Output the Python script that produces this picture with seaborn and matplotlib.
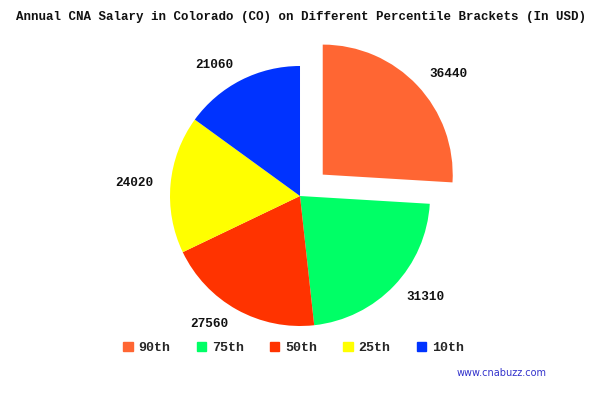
import matplotlib.pyplot as plt
import seaborn as sns
from matplotlib.patches import Patch

percentiles = ['90th', '75th', '50th', '25th', '10th']
salaries = [36440, 31310, 27560, 24020, 21060]
slice_colors = ['#FF6633', '#00FF66', '#FF3300', '#FFFF00', '#0033FF']


def main():
    sns.set_style('white')
    plt.rcParams['font.family'] = ['Liberation Mono', 'DejaVu Sans Mono']
    palette = sns.color_palette(slice_colors)

    fig = plt.figure(figsize=(6.02, 3.94), dpi=100)
    ax = fig.add_axes([0.2284, 0.0901, 0.5399, 0.8249])

    explode = [0.24, 0, 0, 0, 0]
    ax.pie(salaries, explode=explode, labels=[str(s) for s in salaries],
           colors=palette, startangle=90, counterclock=False,
           labeldistance=1.13, wedgeprops={'linewidth': 0, 'edgecolor': 'none'},
           textprops={'fontsize': 9.2, 'fontweight': 'bold', 'color': '#111111'})
    ax.set_xlim(-1.25, 1.25)
    ax.set_ylim(-1.25, 1.25)
    ax.set_aspect('equal')

    fig.text(0.5, 0.957, 'Annual CNA Salary in Colorado (CO) on Different Percentile Brackets (In USD)',
             ha='center', va='center', fontsize=9.0, fontweight='bold', color='#111111')

    handles = [Patch(color=c) for c in palette]
    fig.legend(handles, percentiles, loc='center', bbox_to_anchor=(293.5 / 602, 1 - 348 / 394),
               ncol=5, frameon=False, handlelength=0.7, handleheight=0.7,
               handletextpad=0.45, columnspacing=1.95,
               prop={'family': 'Liberation Mono', 'weight': 'bold', 'size': 9.6})

    fig.text(547 / 602, 1 - 373 / 394, 'www.cnabuzz.com', ha='right', va='center',
             fontsize=7, color='#3333CC', family='DejaVu Sans')

    fig.savefig('out.png', dpi=100, facecolor='white')


main()
